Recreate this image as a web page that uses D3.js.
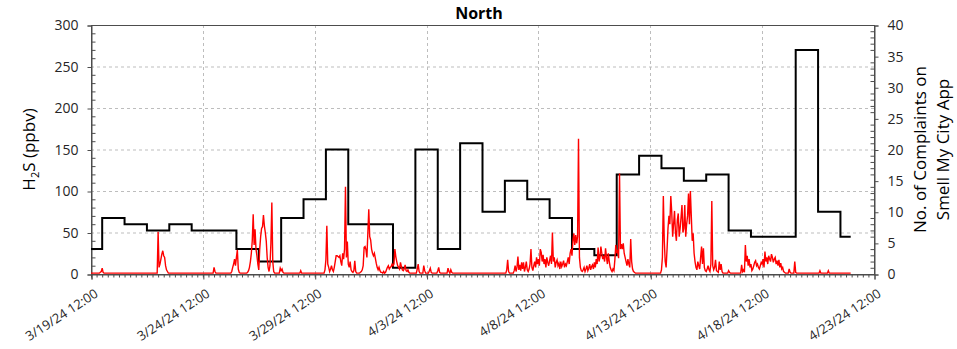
<!DOCTYPE html>
<html>
<head>
<meta charset="utf-8">
<script src="https://cdn.jsdelivr.net/npm/d3@7"></script>
<style>
  html, body { margin: 0; padding: 0; background: #fff; }
  svg { display: block; font-family: "Open Sans", "Noto Sans", sans-serif; }
</style>
</head>
<body>
<svg id="chart" width="957" height="349"></svg>
<script>
// ---------------- DATA ----------------
const chartTitle = "North";
const leftAxisLabel = ["H", "2", "S (ppbv)"];
const rightAxisLabel = ["No. of Complaints on", "Smell My City App"];

const xTickDates = ["2024-03-19T12:00Z","2024-03-24T12:00Z","2024-03-29T12:00Z","2024-04-03T12:00Z",
                    "2024-04-08T12:00Z","2024-04-13T12:00Z","2024-04-18T12:00Z","2024-04-23T12:00Z"];
const xTickLabels = ["3/19/24 12:00","3/24/24 12:00","3/29/24 12:00","4/3/24 12:00",
                     "4/8/24 12:00","4/13/24 12:00","4/18/24 12:00","4/23/24 12:00"];
const leftTicks = [0, 50, 100, 150, 200, 250, 300];
const rightTicks = [0, 5, 10, 15, 20, 25, 30, 35, 40];

// Daily complaint counts (Smell My City App), one per calendar day
const complaintDates = ["2024-03-19","2024-03-20","2024-03-21","2024-03-22","2024-03-23","2024-03-24","2024-03-25",
  "2024-03-26","2024-03-27","2024-03-28","2024-03-29","2024-03-30","2024-03-31","2024-04-01","2024-04-02",
  "2024-04-03","2024-04-04","2024-04-05","2024-04-06","2024-04-07","2024-04-08","2024-04-09","2024-04-10",
  "2024-04-11","2024-04-12","2024-04-13","2024-04-14","2024-04-15","2024-04-16","2024-04-17","2024-04-18",
  "2024-04-19","2024-04-20","2024-04-21","2024-04-22"];
const complaintCounts = [4, 9, 8, 7, 8, 7, 7, 4, 2, 9, 12, 20, 8, 8, 1, 20, 4, 21, 10, 15, 12, 9, 4, 3,
  16, 19, 17, 15, 16, 7, 6, 6, 36, 10, 6];
const complaintsEnd = "2024-04-22T11:00Z";

// Hourly H2S (ppbv), starting 3/19/24 12:00, one row per 24 h (noon to noon)
const h2sStart = "2024-03-19T12:00Z";
const h2sHourly = [
  [1,1,1,1,1,1,1,1,1,1,2,3,7,2,1,1,1,1,1,1,1,1,1,1],
  [1,1,1,1,1,1,1,1,1,1,1,1,1,1,1,1,1,1,1,1,1,1,1,1],
  [1,1,1,1,1,1,1,1,1,1,1,1,1,1,1,1,1,1,1,1,1,1,1,1],
  [51,8,12,18,24,28,22,20,10,5,3,1,1,1,1,1,1,1,1,1,1,1,1,1],
  [1,1,1,1,1,1,1,1,1,1,1,1,1,1,1,1,1,1,1,1,1,1,1,1],
  [1,1,1,1,1,1,1,1,1,1,1,1,8,3,1,1,1,1,1,1,1,1,1,1],
  [1,1,1,1,1,1,1,3,8,12,18,10,20,29,6,2,1,1,1,1,1,1,1,1],
  [2,4,8,15,25,40,72,35,54,30,22,12,5,30,45,55,57,71,58,50,40,20,8,3],
  [10,37,86,15,3,1,1,1,1,1,1,7,4,6,2,1,1,1,1,1,1,1,1,1],
  [1,1,1,1,1,1,1,1,1,4,1,1,1,1,1,1,1,1,1,1,1,1,1,1],
  [1,1,1,1,1,1,1,1,1,1,1,5,17,58,12,8,3,6,10,5,3,8,15,22],
  [22,21,20,22,15,10,25,18,30,105,20,39,12,8,15,5,3,2,4,16,3,1,1,1],
  [1,2,3,5,10,32,33,29,20,49,78,45,41,30,25,22,25,19,13,8,5,8,4,2],
  [2,1,3,1,2,5,8,10,6,8,9,12,10,12,30,21,15,10,8,6,14,9,5,4],
  [6,11,4,3,5,2,1,1,1,1,1,1,1,1,6,12,3,1,1,1,1,10,4,1],
  [1,1,1,4,7,2,1,1,1,1,1,1,4,8,2,1,1,1,1,1,1,1,1,7],
  [3,1,5,2,1,1,1,1,1,1,1,1,1,1,1,1,1,1,1,1,1,1,1,1],
  [1,1,1,1,1,1,1,1,1,1,1,1,1,1,1,1,1,1,1,1,1,1,1,1],
  [1,1,1,1,1,1,1,1,1,1,1,1,1,1,5,17,3,1,1,1,1,1,4,10],
  [3,8,21,5,11,4,14,6,14,3,8,15,5,3,6,12,30,8,4,10,15,8,20,12],
  [18,10,30,26,15,23,12,18,8,20,14,10,16,22,12,50,15,20,8,14,17,10,13,6],
  [15,9,12,16,8,12,10,15,20,12,25,30,22,40,49,35,47,37,45,163,20,8,4,3],
  [5,8,3,6,10,4,7,12,5,9,11,6,14,8,18,12,32,15,20,33,25,18,22,15],
  [31,20,12,25,15,8,5,3,6,4,17,35,25,29,19,121,30,36,30,37,25,20,15,10],
  [18,12,8,42,15,6,3,2,1,1,1,1,1,1,1,1,1,1,1,1,1,1,1,1],
  [1,1,1,1,1,1,1,1,1,1,1,1,5,20,94,40,15,8,30,55,70,60,94,75],
  [45,60,76,50,40,65,73,45,55,68,83,50,55,83,45,60,70,97,60,100,70,40,49,25],
  [15,8,5,15,10,6,20,33,12,31,8,4,3,6,10,5,3,12,88,10,5,8,17,4],
  [3,2,15,5,12,3,1,1,1,1,1,1,4,2,1,1,1,1,1,1,1,1,1,1],
  [1,1,11,3,5,2,35,15,22,10,18,8,12,4,6,10,14,16,10,12,8,6,10,14],
  [12,18,8,27,15,20,12,22,18,15,24,20,14,18,20,12,16,10,17,8,13,6,8,3],
  [2,1,1,1,1,6,2,1,1,1,1,15,2,1,1,1,1,1,1,1,1,1,1,1],
  [1,1,1,1,1,1,1,1,1,1,1,1,1,1,4,1,1,1,1,1,1,1,1,4],
  [1,1,1,1,1,1,1,1,1,1,1,1,1,1,1,1,1,1,1,1,1,1,1,1]
];

// ---------------- CHART ----------------
const svg = d3.select("#chart");
const M = { left: 91, right: 874, top: 25, bottom: 274 };
const HOUR = 3600 * 1000;

const x = d3.scaleUtc()
  .domain([new Date(xTickDates[0]), new Date(xTickDates[xTickDates.length - 1])])
  .range([M.left, M.right]);
const yL = d3.scaleLinear().domain([0, 300]).range([M.bottom, M.top]);
const yR = d3.scaleLinear().domain([0, 40]).range([M.bottom, M.top]);

const gridColor = "#bdbdbd";
const axisColor = "#4d4d4d";

// Gridlines
const grid = svg.append("g").attr("class", "grid");
grid.selectAll("line.h").data(leftTicks.filter(v => v > 0 && v < 300)).join("line")
  .attr("x1", M.left).attr("x2", M.right)
  .attr("y1", d => yL(d) + 0.5).attr("y2", d => yL(d) + 0.5)
  .attr("stroke", gridColor).attr("stroke-dasharray", "3,3");
grid.selectAll("line.v").data(xTickDates.slice(1, -1)).join("line")
  .attr("x1", d => Math.round(x(new Date(d))) + 0.5).attr("x2", d => Math.round(x(new Date(d))) + 0.5)
  .attr("y1", M.top).attr("y2", M.bottom)
  .attr("stroke", gridColor).attr("stroke-dasharray", "3,3");

// Frame
svg.append("rect").attr("x", M.left + 0.5).attr("y", M.top + 0.5)
  .attr("width", M.right - M.left).attr("height", M.bottom - M.top)
  .attr("fill", "none").attr("stroke", axisColor).attr("stroke-width", 1);

// Left axis: major ticks outward, minor inward
const leftAxis = d3.axisLeft(yL).tickValues(leftTicks).tickSize(4).tickPadding(9);
const gL = svg.append("g").attr("transform", `translate(${M.left + 0.5},0.5)`).call(leftAxis);
const leftMinor = d3.range(0, 301, 10).filter(v => v % 50 !== 0);
gL.selectAll("line.minor").data(leftMinor).join("line").attr("class", "minor")
  .attr("x1", 0).attr("x2", 4).attr("y1", d => yL(d)).attr("y2", d => yL(d)).attr("stroke", axisColor);

// Right axis
const rightAxis = d3.axisRight(yR).tickValues(rightTicks).tickSize(4).tickPadding(9);
const gR = svg.append("g").attr("transform", `translate(${M.right + 0.5},0.5)`).call(rightAxis);
const rightMinor = d3.range(0, 41, 1).filter(v => v % 5 !== 0);
gR.selectAll("line.minor").data(rightMinor).join("line").attr("class", "minor")
  .attr("x1", -4).attr("x2", 0).attr("y1", d => yR(d)).attr("y2", d => yR(d)).attr("stroke", axisColor);

// Bottom axis
const xAxis = d3.axisBottom(x).tickValues(xTickDates.map(d => new Date(d))).tickSize(5).tickFormat(() => "");
const gB = svg.append("g").attr("transform", `translate(0.5,${M.bottom + 0.5})`).call(xAxis);
const xMinor = d3.utcHour.every(6).range(x.domain()[0], x.domain()[1]);
gB.selectAll("line.minor").data(xMinor).join("line").attr("class", "minor")
  .attr("x1", d => x(d)).attr("x2", d => x(d)).attr("y1", 0).attr("y2", 3).attr("stroke", axisColor);

[gL, gR, gB].forEach(g => {
  g.select(".domain").attr("stroke", axisColor);
  g.selectAll(".tick line").attr("stroke", axisColor);
  g.selectAll(".tick text").attr("font-family", "Open Sans").attr("font-size", 14).attr("fill", "#262626");
});

// Rotated x labels
svg.append("g").selectAll("text").data(xTickDates).join("text")
  .attr("transform", d => `translate(${x(new Date(d)) + 8},${M.bottom + 22}) rotate(-33)`)
  .attr("text-anchor", "end")
  .attr("font-size", 13).attr("fill", "#262626")
  .text((d, i) => xTickLabels[i]);

// Complaints step line (right axis)
const stepPts = complaintDates.map((d, i) => {
  const t = new Date(d + "T00:00Z");
  return { t: t < x.domain()[0] ? x.domain()[0] : t, v: complaintCounts[i] };
});
stepPts.push({ t: new Date(complaintsEnd), v: complaintCounts[complaintCounts.length - 1] });
const stepLine = d3.line().x(d => x(d.t)).y(d => yR(d.v)).curve(d3.curveStepAfter);
svg.append("path").datum(stepPts).attr("d", stepLine)
  .attr("fill", "none").attr("stroke", "#000").attr("stroke-width", 2).attr("stroke-linejoin", "miter");

// H2S hourly line (left axis)
const t0 = new Date(h2sStart).getTime();
const h2sPts = h2sHourly.flat().map((v, i) => ({ t: new Date(t0 + i * HOUR), v }));
const h2sLine = d3.line().x(d => x(d.t)).y(d => yL(d.v));
svg.append("path").datum(h2sPts).attr("d", h2sLine)
  .attr("fill", "none").attr("stroke", "#ff0000").attr("stroke-width", 1.4);

// Title
svg.append("text").attr("x", 479).attr("y", 19).attr("text-anchor", "middle")
  .attr("font-size", 16).attr("font-weight", "bold").attr("fill", "#000").text(chartTitle);

// Left axis label
const ll = svg.append("text").attr("transform", `translate(35,${(M.top + M.bottom) / 2}) rotate(-90)`)
  .attr("text-anchor", "middle").attr("font-size", 17).attr("fill", "#000");
ll.append("tspan").text(leftAxisLabel[0]);
ll.append("tspan").attr("font-size", 11).attr("dy", 4).text(leftAxisLabel[1]);
ll.append("tspan").attr("dy", -4).text(leftAxisLabel[2]);

// Right axis label
svg.append("g").selectAll("text").data(rightAxisLabel).join("text")
  .attr("transform", (d, i) => `translate(${926 + i * 23},${(M.top + M.bottom) / 2}) rotate(-90)`)
  .attr("text-anchor", "middle").attr("font-size", 17).attr("fill", "#000")
  .text(d => d);
</script>
</body>
</html>
